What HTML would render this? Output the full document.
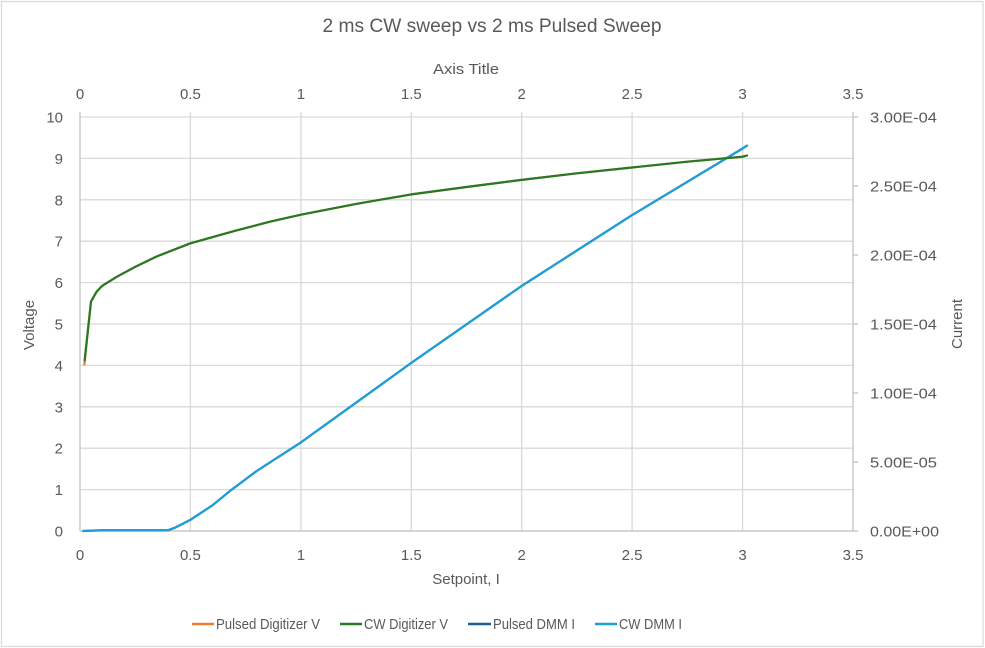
<!DOCTYPE html>
<html>
<head>
<meta charset="utf-8">
<style>
  html, body { margin:0; padding:0; background:#fff; }
  svg { display:block; }
  text { font-family: "Liberation Sans", sans-serif; fill:#595959; }
</style>
</head>
<body>
<svg width="985" height="648" viewBox="0 0 985 648" xmlns="http://www.w3.org/2000/svg">
  <rect x="0" y="0" width="985" height="648" fill="#fff"/>
  <rect x="1.5" y="1.5" width="981.5" height="645" fill="none" stroke="#d9d9d9" stroke-width="1.2"/>

  <!-- Title -->
  <text x="492" y="32" font-size="19" text-anchor="middle" textLength="339" lengthAdjust="spacingAndGlyphs">2 ms CW sweep vs 2 ms Pulsed Sweep</text>
  <text x="466" y="74" font-size="15" text-anchor="middle" textLength="66" lengthAdjust="spacingAndGlyphs">Axis Title</text>

  <!-- horizontal gridlines -->
  <g stroke="#d9d9d9" stroke-width="1.3">
    <line x1="80" y1="117" x2="853" y2="117"/>
    <line x1="80" y1="158.4" x2="853" y2="158.4"/>
    <line x1="80" y1="199.8" x2="853" y2="199.8"/>
    <line x1="80" y1="241.2" x2="853" y2="241.2"/>
    <line x1="80" y1="282.6" x2="853" y2="282.6"/>
    <line x1="80" y1="324" x2="853" y2="324"/>
    <line x1="80" y1="365.4" x2="853" y2="365.4"/>
    <line x1="80" y1="406.8" x2="853" y2="406.8"/>
    <line x1="80" y1="448.2" x2="853" y2="448.2"/>
    <line x1="80" y1="489.6" x2="853" y2="489.6"/>
    <!-- vertical gridlines with top ticks -->
    <line x1="190.4" y1="112" x2="190.4" y2="531"/>
    <line x1="300.9" y1="112" x2="300.9" y2="531"/>
    <line x1="411.3" y1="112" x2="411.3" y2="531"/>
    <line x1="521.7" y1="112" x2="521.7" y2="531"/>
    <line x1="632.1" y1="112" x2="632.1" y2="531"/>
    <line x1="742.6" y1="112" x2="742.6" y2="531"/>
  </g>
  <!-- axes -->
  <g stroke="#c8c8c8" stroke-width="1.4">
    <line x1="80" y1="112" x2="80" y2="531"/>
    <line x1="853" y1="112" x2="853" y2="531"/>
    <line x1="80" y1="531" x2="853" y2="531"/>
    <!-- right axis ticks -->
    <line x1="853" y1="117" x2="858" y2="117"/>
    <line x1="853" y1="186" x2="858" y2="186"/>
    <line x1="853" y1="255" x2="858" y2="255"/>
    <line x1="853" y1="324" x2="858" y2="324"/>
    <line x1="853" y1="393" x2="858" y2="393"/>
    <line x1="853" y1="462" x2="858" y2="462"/>
    <line x1="853" y1="531" x2="858" y2="531"/>
  </g>

  <!-- top axis labels -->
  <g font-size="15" text-anchor="middle">
    <text x="80" y="99">0</text>
    <text x="190.4" y="99">0.5</text>
    <text x="300.9" y="99">1</text>
    <text x="411.3" y="99">1.5</text>
    <text x="521.7" y="99">2</text>
    <text x="632.1" y="99">2.5</text>
    <text x="742.6" y="99">3</text>
    <text x="853" y="99">3.5</text>
  </g>
  <!-- bottom axis labels -->
  <g font-size="15" text-anchor="middle">
    <text x="80" y="560">0</text>
    <text x="190.4" y="560">0.5</text>
    <text x="300.9" y="560">1</text>
    <text x="411.3" y="560">1.5</text>
    <text x="521.7" y="560">2</text>
    <text x="632.1" y="560">2.5</text>
    <text x="742.6" y="560">3</text>
    <text x="853" y="560">3.5</text>
  </g>
  <text x="466" y="584" font-size="15" text-anchor="middle">Setpoint, I</text>

  <!-- left axis labels -->
  <g font-size="15" text-anchor="end">
    <text x="63" y="122.5">10</text>
    <text x="63" y="163.9">9</text>
    <text x="63" y="205.3">8</text>
    <text x="63" y="246.7">7</text>
    <text x="63" y="288.1">6</text>
    <text x="63" y="329.5">5</text>
    <text x="63" y="370.9">4</text>
    <text x="63" y="412.3">3</text>
    <text x="63" y="453.7">2</text>
    <text x="63" y="495.1">1</text>
    <text x="63" y="536.5">0</text>
  </g>
  <text transform="translate(34,325) rotate(-90)" font-size="15" text-anchor="middle">Voltage</text>

  <!-- right axis labels -->
  <g font-size="15">
    <text x="870" y="122.5" textLength="67" lengthAdjust="spacingAndGlyphs">3.00E-04</text>
    <text x="870" y="191.5" textLength="67" lengthAdjust="spacingAndGlyphs">2.50E-04</text>
    <text x="870" y="260.5" textLength="67" lengthAdjust="spacingAndGlyphs">2.00E-04</text>
    <text x="870" y="329.5" textLength="67" lengthAdjust="spacingAndGlyphs">1.50E-04</text>
    <text x="870" y="398.5" textLength="67" lengthAdjust="spacingAndGlyphs">1.00E-04</text>
    <text x="870" y="467.5" textLength="67" lengthAdjust="spacingAndGlyphs">5.00E-05</text>
    <text x="870" y="536.5" textLength="69" lengthAdjust="spacingAndGlyphs">0.00E+00</text>
  </g>
  <text transform="translate(962,324) rotate(-90)" font-size="15" text-anchor="middle">Current</text>

  <!-- series -->
  <g fill="none" stroke-width="2.2" stroke-linejoin="round" stroke-linecap="round">
    <!-- Pulsed DMM I (dark blue, under) -->
    <polyline stroke="#1f5f8b" points="83.3,531 102.1,530.2 168.3,530.2 175,527.7 181.6,524.4 190.4,519.8 212.5,505.3 230.2,490.8 256.7,471 300.9,442.4 411.3,362.9 521.7,285.9 632.1,215.1 742.6,148.5 747,145.6"/>
    <!-- CW DMM I -->
    <polyline stroke="#1e9fd8" points="83.3,531 102.1,530.2 168.3,530.2 175,527.7 181.6,524.4 190.4,519.8 212.5,505.3 230.2,490.8 256.7,471 300.9,442.4 411.3,362.9 521.7,285.9 632.1,215.1 742.6,148.5 747,145.6"/>
    <!-- Pulsed Digitizer V (orange) -->
    <polyline stroke="#ed7d31" points="84.4,364.5 91,301.6 96.6,291.7 102.1,285.9 116.7,276.8 135.2,266.9 156.6,256.5 190.4,243.3 234.6,230.9 269.9,221.7 300.9,214.7 356.1,203.9 411.3,194.4 466.5,187 521.7,179.9 576.9,173.3 632.1,167.5 687.4,161.7 742.6,156.7 747,155.5"/>
    <!-- CW Digitizer V (green) -->
    <polyline stroke="#267a26" points="84.6,360.5 91,301.6 96.6,291.7 102.1,285.9 116.7,276.8 135.2,266.9 156.6,256.5 190.4,243.3 234.6,230.9 269.9,221.7 300.9,214.7 356.1,203.9 411.3,194.4 466.5,187 521.7,179.9 576.9,173.3 632.1,167.5 687.4,161.7 742.6,156.7 747,155.5"/>
  </g>

  <!-- legend -->
  <g stroke-width="2.4">
    <line x1="192" y1="624" x2="214" y2="624" stroke="#ed7d31"/>
    <line x1="340" y1="624" x2="362" y2="624" stroke="#267a26"/>
    <line x1="468" y1="624" x2="491" y2="624" stroke="#1f5f8b"/>
    <line x1="595" y1="624" x2="617" y2="624" stroke="#1e9fd8"/>
  </g>
  <g font-size="15">
    <text x="216" y="629" textLength="104" lengthAdjust="spacingAndGlyphs">Pulsed Digitizer V</text>
    <text x="364" y="629" textLength="84" lengthAdjust="spacingAndGlyphs">CW Digitizer V</text>
    <text x="493" y="629" textLength="82" lengthAdjust="spacingAndGlyphs">Pulsed DMM I</text>
    <text x="619" y="629" textLength="63" lengthAdjust="spacingAndGlyphs">CW DMM I</text>
  </g>
</svg>
</body>
</html>
